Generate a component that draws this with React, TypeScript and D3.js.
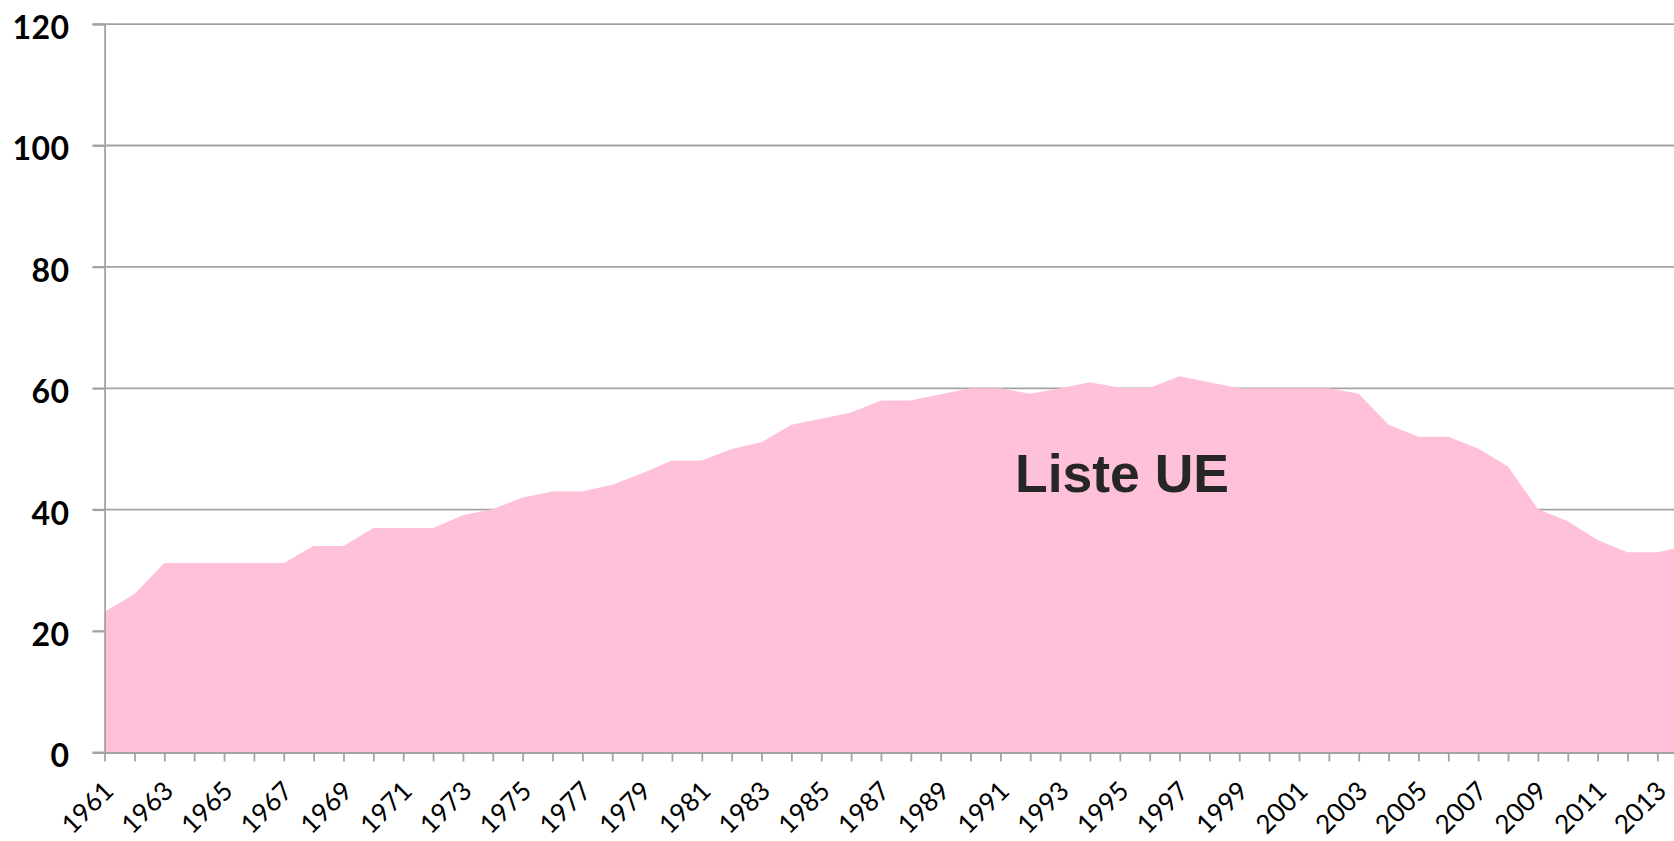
import { useEffect, useRef } from "react";
import * as d3 from "d3";

const years = [
  1961, 1962, 1963, 1964, 1965, 1966, 1967, 1968, 1969, 1970,
  1971, 1972, 1973, 1974, 1975, 1976, 1977, 1978, 1979, 1980,
  1981, 1982, 1983, 1984, 1985, 1986, 1987, 1988, 1989, 1990,
  1991, 1992, 1993, 1994, 1995, 1996, 1997, 1998, 1999, 2000,
  2001, 2002, 2003, 2004, 2005, 2006, 2007, 2008, 2009, 2010,
  2011, 2012, 2013, 2014,
];

const listeUE = [
  23.2, 26.1, 31.2, 31.2, 31.2, 31.2, 31.2, 34.0, 34.0, 37.0,
  37.0, 37.0, 39.1, 40.1, 42.0, 43.0, 43.0, 44.1, 46.0, 48.1,
  48.1, 50.0, 51.1, 54.0, 55.0, 56.0, 58.0, 58.0, 59.0, 60.0,
  60.0, 59.1, 60.0, 61.0, 60.1, 60.1, 62.0, 61.0, 60.0, 60.0,
  60.0, 60.0, 59.1, 54.0, 52.0, 52.0, 50.1, 47.1, 40.1, 38.1,
  35.0, 33.0, 33.0, 34.1,
];

const yTicks = [0, 20, 40, 60, 80, 100, 120];
const seriesLabel = "Liste UE";

export default function App() {
  const svgRef = useRef<SVGSVGElement | null>(null);

  useEffect(() => {
    const width = 1674;
    const height = 841;
    const left = 104.6;
    const step = 29.86;

    const svg = d3.select(svgRef.current);
    svg.selectAll("*").remove();
    svg.attr("width", width).attr("height", height);

    const x = d3
      .scaleLinear()
      .domain([1961, 2014])
      .range([left, left + 53 * step]);

    const y = d3.scaleLinear().domain([0, 120]).range([752.5, 24.1]);

    // gridlines
    svg
      .append("g")
      .selectAll("line")
      .data(yTicks)
      .enter()
      .append("line")
      .attr("x1", left - 12)
      .attr("x2", x(2014) + 20)
      .attr("y1", (d) => y(d))
      .attr("y2", (d) => y(d))
      .attr("stroke", "#a3a3a3")
      .attr("stroke-width", 1.8);

    // area
    const area = d3
      .area<number>()
      .x((_, i) => x(years[i]))
      .y0(y(0))
      .y1((d) => y(d));

    svg
      .append("path")
      .datum(listeUE)
      .attr("d", area)
      .attr("fill", "#ffc1da");

    // y axis
    const yAxis = d3
      .axisLeft(y)
      .tickValues(yTicks)
      .tickSize(12)
      .tickPadding(23)
      .tickFormat((d) => String(d));

    const gy = svg
      .append("g")
      .attr("transform", `translate(${left}, 0)`)
      .call(yAxis);
    gy.select(".domain").attr("stroke", "#a3a3a3").attr("stroke-width", 1.8);
    gy.selectAll(".tick line").attr("stroke", "#a3a3a3").attr("stroke-width", 1.8);
    gy.selectAll(".tick text")
      .attr("dy", "0.45em")
      .attr("fill", "#000")
      .style("font-family", "Lato, 'Open Sans', sans-serif")
      .style("font-weight", "bold")
      .style("letter-spacing", "0.5px")
      .style("font-size", "32px");

    // x axis
    const xAxis = d3
      .axisBottom(x)
      .tickValues(years)
      .tickSize(9)
      .tickSizeOuter(0)
      .tickFormat((d) => ((d as number) % 2 === 1 ? String(d) : ""));

    const gx = svg
      .append("g")
      .attr("transform", `translate(0, ${y(0)})`)
      .call(xAxis);
    gx.select(".domain").attr("stroke", "#a3a3a3").attr("stroke-width", 1.8);
    gx.selectAll(".tick line").attr("stroke", "#a3a3a3").attr("stroke-width", 1.8);
    gx.selectAll(".tick text")
      .attr("y", 0)
      .attr("dy", 0)
      .attr("fill", "#000")
      .attr("text-anchor", "end")
      .attr("transform", "translate(10, 40) rotate(-45)")
      .style("font-family", "Lato, 'Open Sans', sans-serif")
      .style("font-size", "26px");

    // series label
    svg
      .append("text")
      .attr("x", 1015)
      .attr("y", 491.5)
      .attr("fill", "#262626")
      .style("font-family", "'Liberation Sans', Arial, sans-serif")
      .style("font-weight", "bold")
      .style("font-size", "53.5px")
      .text(seriesLabel);
  }, []);

  return (
    <svg
      ref={svgRef}
      style={{ position: "absolute", left: 0, top: 0, background: "#fff" }}
    ></svg>
  );
}
